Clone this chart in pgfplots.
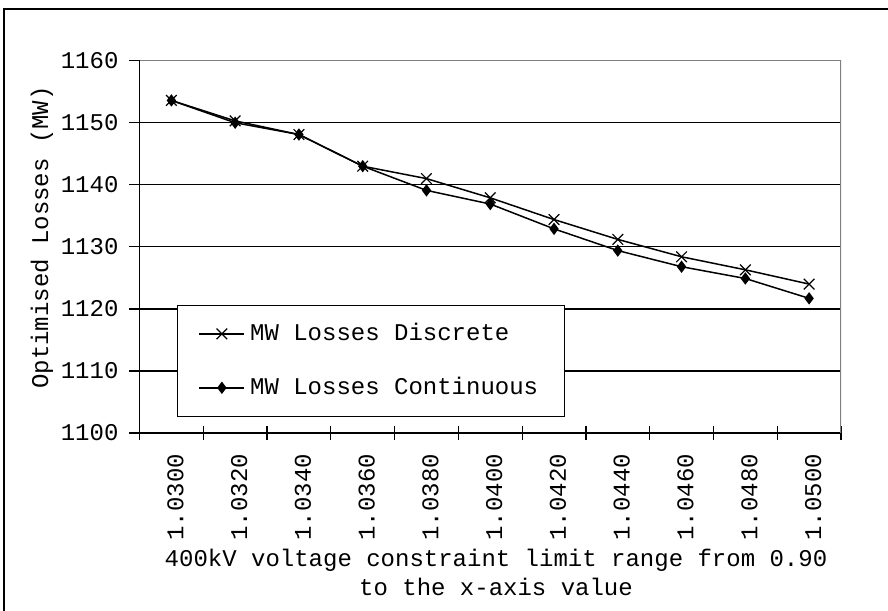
\documentclass[border=0pt]{standalone}
\usepackage{pgfplots}
\pgfplotsset{compat=1.18}
\usepackage{fontspec}
\setmainfont{Liberation Mono}
\begin{document}
\begin{tikzpicture}[x=1pt,y=1pt]
\path[use as bounding box] (0,0) rectangle (444,305);
\draw[line width=0.6pt] (2,-1) -- (2,300.5) -- (445,300.5);
\begin{axis}[
  at={(69.75pt,88.5pt)}, anchor=south west,
  scale only axis, width=350.75pt, height=186.15pt,
  xmin=-0.5, xmax=10.5, ymin=1100, ymax=1160,
  axis x line*=bottom, axis y line*=left,
  axis line style={line width=0.6pt, -, black},
  xtick={0,1,2,3,4,5,6,7,8,9,10},
  xticklabels={1.0300,1.0320,1.0340,1.0360,1.0380,1.0400,1.0420,1.0440,1.0460,1.0480,1.0500},
  major x tick style={draw=none},
  minor xtick={-0.5,0.5,1.5,2.5,3.5,4.5,5.5,6.5,7.5,8.5,9.5,10.5},
  minor tick length=7pt,
  minor x tick style={yshift=3.5pt, line width=0.6pt, black},
  ytick={1100,1110,1120,1130,1140,1150,1160},
  tick align=outside, major tick length=5pt,
  major y tick style={line width=0.6pt, black},
  ymajorgrids, grid style={black, line width=0.6pt},
  tick label style={font=\fontsize{12}{14}\selectfont},
  /pgf/number format/assume math mode=true,
  /pgf/number format/1000 sep={},
  yticklabel style={xshift=-2pt},
  xticklabel style={rotate=90, anchor=east, yshift=-2pt, xshift=-2pt},
  legend style={at={(0.0535,0.043)}, anchor=south west, draw=black, fill=white,
    line width=0.6pt, font=\fontsize{12}{14}\selectfont,
    inner xsep=10.5pt, inner ysep=0.8pt, row sep=0pt,
    nodes={inner ysep=8.4pt, inner xsep=2.5pt}},
  legend cell align=left,
  legend image code/.code={\draw[mark repeat=2,mark phase=2,#1] plot coordinates {(0pt,0pt) (11.25pt,0pt) (22.5pt,0pt)};},
]
\addplot[black, line width=0.75pt, mark=x, mark size=3.75pt, mark options={line width=0.6pt}] coordinates {
 (0,1153.6) (1,1150.3) (2,1148.1) (3,1143.0) (4,1141.0) (5,1137.9) (6,1134.4) (7,1131.2) (8,1128.4) (9,1126.3) (10,1124.0)};
\addplot[black, line width=0.75pt, mark=diamond*, mark size=2.5pt] coordinates {
 (0,1153.6) (1,1150.0) (2,1148.1) (3,1143.0) (4,1139.1) (5,1136.9) (6,1132.9) (7,1129.4) (8,1126.8) (9,1124.9) (10,1121.7)};
\legend{MW Losses Discrete, MW Losses Continuous}
\draw[gray, line width=0.6pt] (rel axis cs:0,1) -- (rel axis cs:1,1) -- (rel axis cs:1,0);
\end{axis}
\node[rotate=90, anchor=base, font=\fontsize{12}{14}\selectfont] at (24,186.25) {Optimised Losses (MW)};
\node[anchor=base, font=\fontsize{12}{14}\selectfont] at (248,21.65) {400kV voltage constraint limit range from 0.90};
\node[anchor=base, font=\fontsize{12}{14}\selectfont] at (248,7.5) {to the x-axis value};
\end{tikzpicture}
\end{document}
